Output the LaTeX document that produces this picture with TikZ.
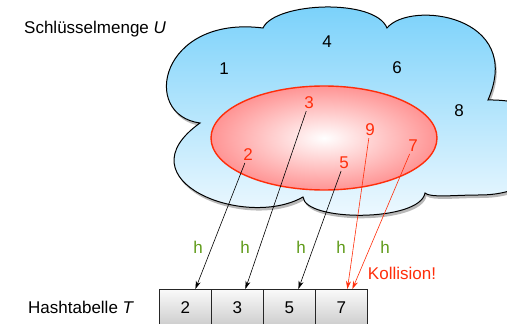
\documentclass[tikz,border=0pt]{standalone}
\usepackage{fontspec}
\setmainfont{Liberation Sans}
\usetikzlibrary{arrows.meta,shadows}
\definecolor{keyred}{RGB}{255,45,10}
\definecolor{hgreen}{RGB}{95,155,25}
\definecolor{cloudtop}{RGB}{118,208,250}
\definecolor{cloudbot}{RGB}{245,251,255}
\begin{document}
\begin{tikzpicture}[x=1pt,y=-1pt, font=\fontsize{17}{20}\selectfont,
 lbl/.style={inner sep=0pt, anchor=center},
 keyb/.style={lbl, text=black},
 keyr/.style={lbl, text=keyred},
 hlab/.style={lbl, text=hgreen},
 cell/.style={draw=black!85, line width=0.8pt, minimum width=52pt, minimum height=37pt,
   top color=gray!4, bottom color=gray!40, anchor=north west, inner sep=0pt},
 harrow/.style={-{Stealth[length=8pt,width=5pt]}, line width=0.6pt, shorten <=2pt},
]
\useasboundingbox (0,0) rectangle (507,324);
\begin{scope}
\clip (0,0) rectangle (507,324);
\path[drop shadow={opacity=0.55, shadow xshift=1.5pt, shadow yshift=-3pt},
      top color=cloudtop, bottom color=cloudbot, draw=black, line width=1pt]
  (263,28) .. controls (275,2) and (375,-2) .. (387,28)
  .. controls (410,0) and (525,15) .. (488,100)
  .. controls (585,98) and (570,196) .. (478,195)
  .. controls (455,195) and (430,198) .. (425,193)
  .. controls (420,222) and (305,222) .. (303,197)
  .. controls (245,230) and (120,180) .. (200,123)
  .. controls (140,115) and (160,15) .. (263,28) -- cycle;
\end{scope}
\draw[keyred, line width=1.4pt, inner color=white, outer color=red!42]
  (324,138) ellipse [x radius=113, y radius=52];

\node[anchor=base west, inner sep=0pt] (setlbl) at (24,33) {Schlüsselmenge \textit{U}};
\node[anchor=base west, inner sep=0pt] (tablbl) at (28,313) {Hashtabelle \textit{T}};

\node[keyb] (n1) at (224,69) {1};
\node[keyb] (n4) at (327,42) {4};
\node[keyb] (n6) at (397,68) {6};
\node[keyb] (n8) at (459,111) {8};
\node[keyr] (n3) at (309,103) {3};
\node[keyr] (n9) at (370,130) {9};
\node[keyr] (n7) at (413,146) {7};
\node[keyr] (n2) at (248,155) {2};
\node[keyr] (n5) at (344,163) {5};

\node[cell] (c1) at (159,289) {2};
\node[cell] (c2) at (211,289) {3};
\node[cell] (c3) at (263,289) {5};
\node[cell] (c4) at (315,289) {7};

\draw[harrow] (n2) -- ([xshift=10pt]c1.north);
\draw[harrow] (n3) -- ([xshift=8pt]c2.north);
\draw[harrow] (n5) -- ([xshift=9pt]c3.north);
\draw[harrow, keyred] (n9) -- ([xshift=6pt]c4.north);
\draw[harrow, keyred] (n7) -- ([xshift=11pt]c4.north);

\node[hlab] (h1) at (198,247) {h};
\node[hlab] (h2) at (245,247) {h};
\node[hlab] (h3) at (301,247) {h};
\node[hlab] (h4) at (341,247) {h};
\node[hlab] (h5) at (385,247) {h};
\node[keyr] (koll) at (402,273) {Kollision!};
\end{tikzpicture}
\end{document}
